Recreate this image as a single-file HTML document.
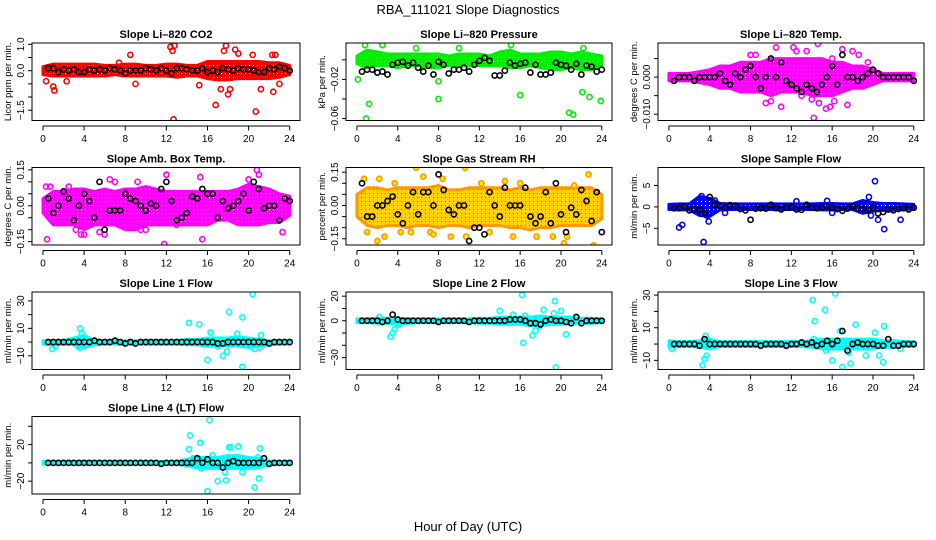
<!DOCTYPE html>
<html><head><meta charset="utf-8"><style>
html,body{margin:0;padding:0;background:#fff}
svg{display:block;font-family:"Liberation Sans",sans-serif}
</style></head><body>
<svg id="chart" width="936" height="540" viewBox="0 0 936 540">
<defs id="defs"></defs>
<text x="468" y="14" text-anchor="middle" font-size="13">RBA_111021  Slope Diagnostics</text>
<text x="468" y="531" text-anchor="middle" font-size="13">Hour of Day (UTC)</text>
</svg>
<script>
const hours=[0,1,2,3,4,5,6,7,8,9,10,11,12,13,14,15,16,17,18,19,20,21,22,23,24];
const blackHours=[0.5,1,1.5,2,2.5,3,3.5,4,4.5,5,5.5,6,6.5,7,7.5,8,8.5,9,9.5,10,10.5,11,11.5,12,12.5,13,13.5,14,14.5,15,15.5,16,16.5,17,17.5,18,18.5,19,19.5,20,20.5,21,21.5,22,22.5,23,23.5,24];
const xTicks=[0,4,8,12,16,20,24];

const co2Lo=[-0.15,-0.2,-0.2,-0.2,-0.2,-0.2,-0.2,-0.15,-0.2,-0.2,-0.2,-0.2,-0.2,-0.25,-0.2,-0.2,-0.3,-0.35,-0.35,-0.3,-0.3,-0.3,-0.3,-0.25,-0.15];
const co2Hi=[0.15,0.25,0.25,0.25,0.25,0.25,0.2,0.2,0.25,0.25,0.2,0.2,0.25,0.25,0.2,0.2,0.35,0.35,0.35,0.35,0.35,0.35,0.3,0.3,0.2];
const co2Black=[0.1,0.1,-0.05,0.05,0.0,0.05,-0.05,-0.05,0.05,0.0,0.05,0.0,0.1,0.05,0.0,-0.1,0.0,0.0,0.0,0.1,0.05,0.0,0.1,0.0,-0.1,0.1,0.1,0.05,0.0,0.0,0.1,-0.05,0.0,-0.05,0.1,0.05,0.0,0.1,0.05,0.05,0.0,-0.05,-0.05,0.1,0.05,0.15,0.1,0.0];
const co2OutX=[0.3,1,1.1,2.3,7.4,8.5,9,12.4,12.6,12.8,12.7,15.2,16.8,17.6,17.8,18.7,19,17.3,18,18.2,20.7,20.4,21.2,22.4,22.3,22.6,23];
const co2OutY=[-0.4,-0.6,-0.75,-0.4,0.3,0.6,-0.5,0.9,0.75,0.95,-1.85,-0.55,-1.3,0.75,0.95,0.8,0.65,-0.7,-0.9,-0.7,-1.55,0.6,-0.7,-0.8,0.6,0.6,-0.5];

const presLo=[-0.004,-0.008,-0.006,-0.006,-0.008,-0.006,-0.006,-0.008,-0.008,-0.006,-0.006,-0.006,-0.006,-0.006,-0.006,-0.008,-0.008,-0.006,-0.008,-0.01,-0.01,-0.008,-0.01,-0.01,-0.006];
const presHi=[0.004,0.01,0.008,0.006,0.006,0.006,0.006,0.006,0.006,0.004,0.006,0.006,0.006,0.004,0.008,0.01,0.006,0.006,0.006,0.008,0.008,0.006,0.008,0.006,0.004];
const presBlack=[-0.012,-0.01,-0.01,-0.013,-0.012,-0.015,-0.005,-0.003,-0.002,-0.006,-0.003,-0.008,-0.012,-0.006,-0.015,-0.002,-0.005,-0.014,-0.01,-0.01,-0.008,-0.012,-0.005,-0.001,0.002,-0.001,-0.016,-0.016,-0.011,-0.003,-0.006,-0.004,-0.003,-0.013,-0.005,-0.015,-0.015,-0.013,-0.003,-0.005,-0.006,-0.01,-0.004,-0.015,-0.006,-0.007,-0.012,-0.01];
const presOutX=[0.1,0.8,1.2,0.9,2.5,5.8,8,8,10,15.1,16,20.8,21.2,22.2,22.1,22.8,23.9];
const presOutY=[-0.02,0.015,-0.045,-0.06,0.015,0.012,-0.04,-0.022,0.012,0.015,-0.036,-0.054,-0.056,0.012,-0.033,-0.038,-0.042];

const tempLo=[-0.001,-0.001,-0.001,-0.0015,-0.002,-0.003,-0.003,-0.004,-0.004,-0.004,-0.005,-0.004,-0.004,-0.004,-0.005,-0.005,-0.005,-0.004,-0.003,-0.003,-0.002,-0.001,-0.001,-0.001,-0.001];
const tempHi=[0.001,0.001,0.001,0.0015,0.002,0.003,0.003,0.004,0.004,0.004,0.005,0.005,0.005,0.005,0.005,0.005,0.004,0.004,0.003,0.003,0.002,0.001,0.001,0.001,0.001];
const tempBlack=[-0.001,0.0,0.0,0.0,-0.001,0.0,0.0,0.0,0.0,0.001,-0.001,-0.002,0.001,0.0,0.002,0.003,0.0,-0.003,0.0,0.005,0.0,0.004,-0.001,-0.002,-0.003,-0.004,-0.002,-0.003,-0.004,-0.002,0.0,0.003,-0.002,0.006,0.0,0.0,-0.001,0.0,0.001,0.002,0.001,0.0,0.0,0.0,0.0,0.0,0.0,-0.001];
const tempOutX=[8.5,9.5,10,10.5,11,12.2,12.5,13.5,14,14.6,14.2,15.4,15.8,17,16.2,17.5,18,18.6,14.7,7.5,8,13,16,18.9,19.5];
const tempOutY=[0.006,-0.007,-0.0065,0.008,-0.008,0.008,0.007,0.007,-0.006,0.009,-0.011,-0.0085,-0.008,0.0075,-0.0065,-0.0075,0.007,0.006,-0.007,0.003,0.006,-0.005,0.005,-0.002,0.004];

const ambLo=[-0.03,-0.08,-0.08,-0.08,-0.1,-0.08,-0.08,-0.08,-0.1,-0.1,-0.08,-0.08,-0.08,-0.08,-0.08,-0.08,-0.08,-0.06,-0.06,-0.08,-0.08,-0.08,-0.07,-0.07,-0.04];
const ambHi=[0.03,0.06,0.06,0.07,0.07,0.06,0.07,0.06,0.07,0.07,0.08,0.07,0.06,0.06,0.06,0.06,0.06,0.06,0.06,0.07,0.09,0.08,0.07,0.05,0.04];
const ambBlack=[0.03,-0.03,0.0,0.06,0.03,-0.06,0.0,0.05,0.02,-0.05,0.1,-0.1,-0.02,-0.02,-0.02,0.05,0.03,0.02,0.0,-0.02,0.01,0.0,0.07,0.1,0.02,-0.06,-0.05,-0.03,0.04,0.03,0.07,0.05,0.05,-0.05,0.02,-0.01,0.0,0.02,0.05,-0.02,0.1,0.07,-0.01,0.0,0.0,-0.06,0.03,0.02];
const ambOutX=[0.3,0.7,0.4,3.7,4,5.5,6.5,6,9.2,9.5,11.8,12,15.5,15.3,20,20.8,21,23.3,3.2,10,7,13,2.5];
const ambOutY=[0.08,0.08,-0.14,-0.12,-0.12,-0.11,0.11,-0.12,0.1,-0.1,-0.16,0.13,-0.14,0.12,0.11,0.15,0.13,-0.11,-0.1,-0.1,0.1,-0.08,0.08];

const rhLo=[-0.05,-0.09,-0.1,-0.09,-0.09,-0.1,-0.09,-0.09,-0.1,-0.09,-0.09,-0.1,-0.09,-0.09,-0.09,-0.1,-0.1,-0.11,-0.1,-0.1,-0.09,-0.09,-0.09,-0.09,-0.06];
const rhHi=[0.05,0.08,0.08,0.07,0.08,0.08,0.08,0.08,0.09,0.07,0.07,0.08,0.08,0.08,0.08,0.07,0.08,0.07,0.08,0.08,0.08,0.08,0.08,0.08,0.05];
const rhBlack=[0.1,-0.05,-0.05,0.0,0.0,0.02,0.04,-0.04,-0.08,0.0,0.06,-0.04,0.06,0.06,0.0,0.14,0.07,-0.02,-0.04,0.0,0.0,-0.16,-0.1,-0.1,-0.13,0.06,0.0,-0.05,0.08,0.0,0.0,0.0,0.08,-0.05,-0.08,-0.05,0.06,-0.08,0.1,-0.04,-0.12,-0.01,-0.04,0.07,0.02,-0.07,0.06,-0.12];
const rhOutX=[0.7,1,2,2.7,3.7,4.3,5.3,5.8,6.5,7.2,7.5,8.4,9.2,10.6,10.7,12.2,13,14.5,15.3,17.6,18.2,19.2,20.3,20.6,21.3,22.7,23.2,16,2.2];
const rhOutY=[0.12,-0.12,-0.16,-0.14,0.1,-0.12,-0.12,0.17,0.13,-0.12,-0.13,0.12,-0.14,0.17,-0.14,0.1,-0.12,0.11,-0.14,-0.14,0.18,-0.14,-0.17,-0.14,0.09,0.14,-0.18,0.1,0.12];

const sfLo=[-0.6,-0.7,-0.7,-2,-2.2,-0.7,-0.6,-0.6,-0.6,-0.6,-0.6,-0.6,-0.6,-0.6,-0.6,-0.7,-0.7,-0.6,-0.6,-1.5,-1,-0.8,-0.8,-0.6,-0.5];
const sfHi=[0.6,0.7,0.7,2.5,2,0.8,0.7,0.7,0.7,0.7,0.7,0.7,0.7,0.7,0.7,0.8,0.8,0.7,0.7,1.5,1,0.8,0.8,0.7,0.6];
const sfBlack=[-0.3,-0.3,0.0,-0.8,-0.5,-0.7,-1.4,2.3,0.5,0.3,-0.2,0.4,0.3,-0.5,-0.8,-3.0,-0.4,-0.3,-0.4,0.5,-0.3,-0.6,-0.2,0.0,-0.6,-0.7,0.5,-0.2,-0.3,-0.2,0.2,-0.2,-0.5,-0.9,-0.4,0.2,-0.3,-0.5,-0.8,-0.2,-1.5,-1.2,-0.6,-0.8,-0.5,-0.3,-0.6,-0.2];
const sfOutX=[1,1.3,3.2,3.4,3.9,3.7,12.5,15.5,16,19.6,19.8,20.2,20.5,21.1,22.7,4.5,5.5];
const sfOutY=[-4.8,-4.2,2.5,-8.2,-3.4,-2,1.3,1.4,-1.4,2.3,-2,6,-3,-5.2,-3,1.5,-1.4];

const l1Lo=[-1.5,-2,-1.5,-2,-4,-2,-1.5,-1.5,-1.5,-1.5,-1.5,-1.5,-1.5,-1.5,-2,-2,-3,-3,-2.5,-3,-4,-3,-2,-1.5,-1.5];
const l1Hi=[1,1,1,3,5,1,1,1,1,1,1,1,1,1,2,2,3,3,3,4,3,2,1,1,1];
const l1Black=[0,0,0,0,0,0,0,0,0,1,0,0,0,1,0,-1,0,-1,0,0,0,0,0,0,0,0,0,0,0,0,0,0,0,-1,-1,0,0,0,0,0,0,0,0,-1,0,0,0,0];
const l1OutX=[0.9,1.2,3.6,3.8,3.4,14.2,15.2,16.3,16,17,17.5,17.9,18.1,18.9,19.4,19.4,19.9,20.4,20.6,21.2,21.1,3.6];
const l1OutY=[-5,-3,10,6,-3,14,13,7,-13,-3,-10,-7,22,6,18,-18,0,35,-5,5,-4,-4];

const l2Lo=[-1.5,-1.5,-2,-2,-3,-2,-1.5,-1.5,-1.5,-1.5,-1.5,-1.5,-2,-2,-3,-3,-3,-4,-4,-3,-3,-2,-2,-2,-1.5];
const l2Hi=[1.5,1.5,2,2,2,1.5,1.5,1.5,1.5,1.5,1.5,1.5,2,2,3,3,3,3,4,3,3,3,2,2,1.5];
const l2Black=[0,0,0,0,-1,0,5,1,0,0,0,0,0,0,0,-1,0,0,0,0,0,-1,0,0,0,0,0,0,0,1,1,1,0,-2,-2,-3,0,1,0,0,-1,-2,3,-2,0,0,0,0];
const l2OutX=[3.3,3.5,3.7,4.1,14,15.3,16.2,16.3,16.5,17.2,17.5,17.9,18.3,19.3,19.5,19.4,20,20.5,2.2];
const l2OutY=[-13,-10,-7,-3,8,5,21,-18,4,-12,-8,-4,9,6,-38,16,8,-11,3];

const l3Lo=[-2,-1.5,-1.5,-2,-3,-1.5,-1.5,-1.5,-1.5,-1.5,-1.5,-1.5,-1.5,-1.5,-2,-3,-3,-3,-3,-3,-3,-2,-2,-1.5,-1.5];
const l3Hi=[2,1.5,1.5,2,3,1.5,1.5,1.5,1.5,1.5,1.5,1.5,1.5,1.5,2,3,3,3,3,3,3,2,2,1.5,1.5];
const l3Black=[0,0,0,0,0,-1,3,0,0,0,0,0,0,0,0,0,0,-1,0,0,0,0,-1,0,0,1,0,1,-1,0,2,0,2,8,-4,0,1,0,0,0,-1,-1,3,-1,-1,0,0,0];
const l3OutX=[0.3,3.3,3.6,3.7,3.5,14.1,14.3,14.2,15.3,16.3,16,16.8,17,17.8,17.6,18.3,19.3,20.2,20.6,21,21.1,22.7,15.4];
const l3OutY=[-3,-13,5,-7,-9,27,14,3,21,31,-10,8,-14,-12,-5,12,-7,7,-7,-11,11,-3,-4];

const l4Lo=[-1.5,-1.5,-1.5,-1.5,-1.5,-1.5,-1.5,-1.5,-1.5,-1.5,-1.5,-1.5,-1.5,-1.5,-3,-5,-6,-6,-6,-6,-6,-5,-2,-1.5,-1.5];
const l4Hi=[1.5,1.5,1.5,1.5,1.5,1.5,1.5,1.5,1.5,1.5,1.5,1.5,1.5,1.5,4,6,6,6,8,8,6,5,2,1.5,1.5];
const l4Black=[0,0,0,0,0,0,0,0,0,0,0,0,0,0,0,0,0,0,0,0,0,0,-1,0,0,0,0,0,0,5,0,4,0,0,-5,0,2,0,0,0,0,0,5,-1,0,0,0,0];
const l4OutX=[14.2,14.3,14.7,15.3,15.4,16,16.2,16.5,17,17.7,17.8,18.1,18.3,19,19.4,20.6,21,21.1,20.9,14.6,15.5];
const l4OutY=[15,30,-3,22,-6,-31,47,8,-20,-10,-19,17,17,18,-10,-27,-17,16,6,5,3];

const panels=[
 {key:'co2',title:'Slope Li–820 CO2',yt:'Licor ppm per min.',col:0,row:0,ylim:[-1.89,1.05],ticks:[-1.5,-1,-0.5,0,0.5,1],labels:[-1.5,0,1],dec:1,color:'#ff0000',lo:co2Lo,hi:co2Hi,blk:co2Black,ox:co2OutX,oy:co2OutY},
 {key:'pressure',title:'Slope Li–820 Pressure',yt:'kPa per min.',col:1,row:0,ylim:[-0.062,0.0172],ticks:[-0.06,-0.04,-0.02,0],labels:[-0.06,-0.02],dec:2,color:'#00ee00',lo:presLo,hi:presHi,blk:presBlack,ox:presOutX,oy:presOutY},
 {key:'temp',title:'Slope Li–820 Temp.',yt:'degrees C per min.',col:2,row:0,ylim:[-0.0117,0.0092],ticks:[-0.01,-0.005,0,0.005],labels:[-0.01,0],dec:3,color:'#ff00ff',lo:tempLo,hi:tempHi,blk:tempBlack,ox:tempOutX,oy:tempOutY},
 {key:'amb',title:'Slope Amb. Box Temp.',yt:'degrees C per min.',col:0,row:1,ylim:[-0.164,0.16],ticks:[-0.15,-0.1,-0.05,0,0.05,0.1,0.15],labels:[-0.15,0,0.15],dec:2,color:'#ff00ff',lo:ambLo,hi:ambHi,blk:ambBlack,ox:ambOutX,oy:ambOutY},
 {key:'rh',title:'Slope Gas Stream RH',yt:'percent per min.',col:1,row:1,ylim:[-0.178,0.171],ticks:[-0.15,-0.1,-0.05,0,0.05,0.1,0.15],labels:[-0.15,0,0.15],dec:2,color:'#ff9900',lo:rhLo,hi:rhHi,blk:rhBlack,ox:rhOutX,oy:rhOutY},
 {key:'sample',title:'Slope Sample Flow',yt:'ml/min per min.',col:2,row:1,ylim:[-8.9,9.2],ticks:[-5,0,5],labels:[-5,0,5],dec:0,color:'#0000ff',lo:sfLo,hi:sfHi,blk:sfBlack,ox:sfOutX,oy:sfOutY},
 {key:'line1',title:'Slope Line 1 Flow',yt:'ml/min per min.',col:0,row:2,ylim:[-20,36.5],ticks:[-10,0,10,20,30],labels:[-10,10,30],dec:0,color:'#00ffff',lo:l1Lo,hi:l1Hi,blk:l1Black,ox:l1OutX,oy:l1OutY},
 {key:'line2',title:'Slope Line 2 Flow',yt:'ml/min per min.',col:1,row:2,ylim:[-39.7,23.4],ticks:[-30,-20,-10,0,10,20],labels:[-30,0,20],dec:0,color:'#00ffff',lo:l2Lo,hi:l2Hi,blk:l2Black,ox:l2OutX,oy:l2OutY},
 {key:'line3',title:'Slope Line 3 Flow',yt:'ml/min per min.',col:2,row:2,ylim:[-15.6,31.9],ticks:[-10,0,10,20,30],labels:[-10,10,30],dec:0,color:'#00ffff',lo:l3Lo,hi:l3Hi,blk:l3Black,ox:l3OutX,oy:l3OutY},
 {key:'line4',title:'Slope Line 4 (LT) Flow',yt:'ml/min per min.',col:0,row:3,ylim:[-34,50.7],ticks:[-20,0,20,40],labels:[-20,20],dec:0,color:'#00ffff',lo:l4Lo,hi:l4Hi,blk:l4Black,ox:l4OutX,oy:l4OutY}
];
const colLeft=[32,346,658], colW=[268,266,266], rowTop=[43,167.5,292,416.5], rowH=77.5;
const svg=document.getElementById('chart'), defs=document.getElementById('defs');
const NS='http://www.w3.org/2000/svg';
function mk(tag,attrs,parent){const e=document.createElementNS(NS,tag);for(const k in attrs)e.setAttribute(k,attrs[k]);(parent||svg).appendChild(e);return e;}
function fmt(v,d){return (v<0?'\u2212':'')+Math.abs(v).toFixed(d);}

panels.forEach(p=>{
  const L=colLeft[p.col],W=colW[p.col],T=rowTop[p.row],B=T+rowH;
  const xs=h=>L+(h+1.07)/26.07*W;
  const ys=v=>B-(v-p.ylim[0])/(p.ylim[1]-p.ylim[0])*rowH;
  const g=mk('g',{});
  
  
  // pattern
  const pat=mk('pattern',{id:'pat-'+p.key,width:4,height:4,patternUnits:'userSpaceOnUse'},defs);
  mk('rect',{width:4,height:4,fill:p.key==='rh'?'#ffd000':p.color},pat);
  mk('rect',{x:1,y:1,width:1,height:1,fill:p.key==='rh'?'#ff3300':'#fff'},pat);
  const cp=mk('clipPath',{id:'clip-'+p.key},defs);
  mk('rect',{x:L,y:T,width:W,height:rowH},cp);
  const plot=mk('g',{'clip-path':'url(#clip-'+p.key+')'},g);
  // band
  let pts=hours.map((h,i)=>xs(h)+','+ys(p.hi[i]));
  pts=pts.concat(hours.slice().reverse().map((h,j)=>xs(h)+','+ys(p.lo[hours.length-1-j])));
  const band=mk('polygon',{points:pts.join(' '),fill:'url(#pat-'+p.key+')',stroke:p.color,'stroke-width':3,'stroke-linejoin':'round'},plot);
  
  
  p.ox.forEach((x,i)=>{
    const c=mk('circle',{cx:xs(x),cy:ys(p.oy[i]),r:2.6,fill:p.key==='rh'?'#ffee00':'none',stroke:p.color,'stroke-width':1.6},plot);
    
    
  });
  p.blk.forEach((v,i)=>{
    const c=mk('circle',{cx:xs(blackHours[i]),cy:ys(v),r:2.6,fill:'none',stroke:'#000','stroke-width':1.6},plot);
    
    
  });
  // box
  const box=mk('rect',{x:L,y:T,width:W,height:rowH,fill:'none',stroke:'#000','stroke-width':1},g);
  
  
  // x axis
  const ax=B+5.5;
  const xl=mk('line',{x1:xs(0),x2:xs(24),y1:ax,y2:ax,stroke:'#000'},g);
  
  
  xTicks.forEach(t=>{
    mk('line',{x1:xs(t),x2:xs(t),y1:ax,y2:ax+4.5,stroke:'#000'},g);
    const tx=mk('text',{x:xs(t),y:ax+16,'text-anchor':'middle','font-size':10},g);
    tx.textContent=t;
    
    
  });
  // y axis
  p.ticks.forEach(t=>{
    mk('line',{x1:L,x2:L-4,y1:ys(t),y2:ys(t),stroke:'#000'},g);
  });
  p.labels.forEach(t=>{
    const tx=mk('text',{x:0,y:0,'text-anchor':'middle','font-size':10,transform:'translate('+(L-8)+','+ys(t)+') rotate(-90)'},g);
    tx.textContent=fmt(t,p.dec);
    
    
  });
  const yt=mk('text',{x:0,y:0,'text-anchor':'middle','font-size':9.5,transform:'translate('+(L-21)+','+(T+rowH/2)+') rotate(-90)'},g);
  yt.textContent=p.yt;
  
  
  const ti=mk('text',{x:L+W/2,y:T-5,'text-anchor':'middle','font-size':11,'font-weight':'bold'},g);
  ti.textContent=p.title;
  
  
});
</script>
</body></html>
